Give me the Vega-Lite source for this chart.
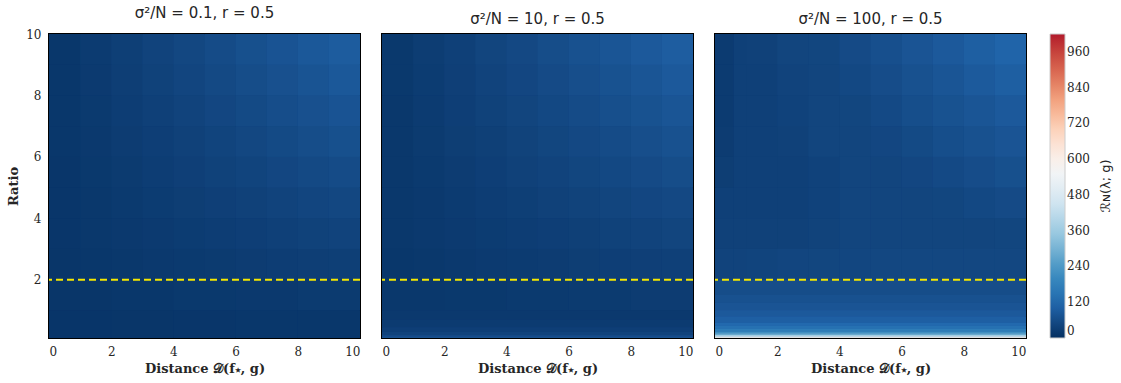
{
"$schema": "https://vega.github.io/schema/vega-lite/v6.json",
"background": "white",
"padding": {"left": 6, "top": 5, "right": 2, "bottom": 2},
"datasets": {"cells": [
{"p":1,"x0":0,"x1":1,"y0":2,"y1":3,"v":13},{"p":1,"x0":1,"x1":2,"y0":2,"y1":3,"v":15},{"p":1,"x0":2,"x1":3,"y0":2,"y1":3,"v":18},{"p":1,"x0":3,"x1":4,"y0":2,"y1":3,"v":20},{"p":1,"x0":4,"x1":5,"y0":2,"y1":3,"v":22},{"p":1,"x0":5,"x1":6,"y0":2,"y1":3,"v":24},{"p":1,"x0":6,"x1":7,"y0":2,"y1":3,"v":27},{"p":1,"x0":7,"x1":8,"y0":2,"y1":3,"v":29},{"p":1,"x0":8,"x1":9,"y0":2,"y1":3,"v":31},{"p":1,"x0":9,"x1":10,"y0":2,"y1":3,"v":33},
{"p":1,"x0":0,"x1":1,"y0":3,"y1":4,"v":14},{"p":1,"x0":1,"x1":2,"y0":3,"y1":4,"v":17},{"p":1,"x0":2,"x1":3,"y0":3,"y1":4,"v":20},{"p":1,"x0":3,"x1":4,"y0":3,"y1":4,"v":23},{"p":1,"x0":4,"x1":5,"y0":3,"y1":4,"v":26},{"p":1,"x0":5,"x1":6,"y0":3,"y1":4,"v":29},{"p":1,"x0":6,"x1":7,"y0":3,"y1":4,"v":32},{"p":1,"x0":7,"x1":8,"y0":3,"y1":4,"v":36},{"p":1,"x0":8,"x1":9,"y0":3,"y1":4,"v":39},{"p":1,"x0":9,"x1":10,"y0":3,"y1":4,"v":42},
{"p":1,"x0":0,"x1":1,"y0":4,"y1":5,"v":14},{"p":1,"x0":1,"x1":2,"y0":4,"y1":5,"v":18},{"p":1,"x0":2,"x1":3,"y0":4,"y1":5,"v":22},{"p":1,"x0":3,"x1":4,"y0":4,"y1":5,"v":26},{"p":1,"x0":4,"x1":5,"y0":4,"y1":5,"v":30},{"p":1,"x0":5,"x1":6,"y0":4,"y1":5,"v":34},{"p":1,"x0":6,"x1":7,"y0":4,"y1":5,"v":38},{"p":1,"x0":7,"x1":8,"y0":4,"y1":5,"v":42},{"p":1,"x0":8,"x1":9,"y0":4,"y1":5,"v":46},{"p":1,"x0":9,"x1":10,"y0":4,"y1":5,"v":50},
{"p":1,"x0":0,"x1":1,"y0":5,"y1":6,"v":14},{"p":1,"x0":1,"x1":2,"y0":5,"y1":6,"v":19},{"p":1,"x0":2,"x1":3,"y0":5,"y1":6,"v":24},{"p":1,"x0":3,"x1":4,"y0":5,"y1":6,"v":29},{"p":1,"x0":4,"x1":5,"y0":5,"y1":6,"v":34},{"p":1,"x0":5,"x1":6,"y0":5,"y1":6,"v":39},{"p":1,"x0":6,"x1":7,"y0":5,"y1":6,"v":44},{"p":1,"x0":7,"x1":8,"y0":5,"y1":6,"v":49},{"p":1,"x0":8,"x1":9,"y0":5,"y1":6,"v":54},{"p":1,"x0":9,"x1":10,"y0":5,"y1":6,"v":59},
{"p":1,"x0":0,"x1":1,"y0":6,"y1":7,"v":15},{"p":1,"x0":1,"x1":2,"y0":6,"y1":7,"v":21},{"p":1,"x0":2,"x1":3,"y0":6,"y1":7,"v":27},{"p":1,"x0":3,"x1":4,"y0":6,"y1":7,"v":32},{"p":1,"x0":4,"x1":5,"y0":6,"y1":7,"v":38},{"p":1,"x0":5,"x1":6,"y0":6,"y1":7,"v":44},{"p":1,"x0":6,"x1":7,"y0":6,"y1":7,"v":50},{"p":1,"x0":7,"x1":8,"y0":6,"y1":7,"v":56},{"p":1,"x0":8,"x1":9,"y0":6,"y1":7,"v":62},{"p":1,"x0":9,"x1":10,"y0":6,"y1":7,"v":68},
{"p":1,"x0":0,"x1":1,"y0":7,"y1":8,"v":15},{"p":1,"x0":1,"x1":2,"y0":7,"y1":8,"v":22},{"p":1,"x0":2,"x1":3,"y0":7,"y1":8,"v":29},{"p":1,"x0":3,"x1":4,"y0":7,"y1":8,"v":36},{"p":1,"x0":4,"x1":5,"y0":7,"y1":8,"v":42},{"p":1,"x0":5,"x1":6,"y0":7,"y1":8,"v":49},{"p":1,"x0":6,"x1":7,"y0":7,"y1":8,"v":56},{"p":1,"x0":7,"x1":8,"y0":7,"y1":8,"v":63},{"p":1,"x0":8,"x1":9,"y0":7,"y1":8,"v":69},{"p":1,"x0":9,"x1":10,"y0":7,"y1":8,"v":76},
{"p":1,"x0":0,"x1":1,"y0":8,"y1":9,"v":16},{"p":1,"x0":1,"x1":2,"y0":8,"y1":9,"v":23},{"p":1,"x0":2,"x1":3,"y0":8,"y1":9,"v":31},{"p":1,"x0":3,"x1":4,"y0":8,"y1":9,"v":39},{"p":1,"x0":4,"x1":5,"y0":8,"y1":9,"v":46},{"p":1,"x0":5,"x1":6,"y0":8,"y1":9,"v":54},{"p":1,"x0":6,"x1":7,"y0":8,"y1":9,"v":62},{"p":1,"x0":7,"x1":8,"y0":8,"y1":9,"v":69},{"p":1,"x0":8,"x1":9,"y0":8,"y1":9,"v":77},{"p":1,"x0":9,"x1":10,"y0":8,"y1":9,"v":85},
{"p":1,"x0":0,"x1":1,"y0":9,"y1":10,"v":16},{"p":1,"x0":1,"x1":2,"y0":9,"y1":10,"v":25},{"p":1,"x0":2,"x1":3,"y0":9,"y1":10,"v":33},{"p":1,"x0":3,"x1":4,"y0":9,"y1":10,"v":42},{"p":1,"x0":4,"x1":5,"y0":9,"y1":10,"v":50},{"p":1,"x0":5,"x1":6,"y0":9,"y1":10,"v":59},{"p":1,"x0":6,"x1":7,"y0":9,"y1":10,"v":68},{"p":1,"x0":7,"x1":8,"y0":9,"y1":10,"v":76},{"p":1,"x0":8,"x1":9,"y0":9,"y1":10,"v":85},{"p":1,"x0":9,"x1":10,"y0":9,"y1":10,"v":93},
{"p":1,"x0":0,"x1":2,"y0":1,"y1":2,"v":13},{"p":1,"x0":2,"x1":4,"y0":1,"y1":2,"v":16},{"p":1,"x0":4,"x1":6,"y0":1,"y1":2,"v":19},{"p":1,"x0":6,"x1":8,"y0":1,"y1":2,"v":21},{"p":1,"x0":8,"x1":10,"y0":1,"y1":2,"v":24},
{"p":1,"x0":0,"x1":2,"y0":0.1,"y1":1,"v":12},{"p":1,"x0":2,"x1":4,"y0":0.1,"y1":1,"v":13},{"p":1,"x0":4,"x1":6,"y0":0.1,"y1":1,"v":14},{"p":1,"x0":6,"x1":8,"y0":0.1,"y1":1,"v":15},{"p":1,"x0":8,"x1":10,"y0":0.1,"y1":1,"v":16},

{"p":2,"x0":0,"x1":1,"y0":2,"y1":3,"v":16},{"p":2,"x0":1,"x1":2,"y0":2,"y1":3,"v":18},{"p":2,"x0":2,"x1":3,"y0":2,"y1":3,"v":21},{"p":2,"x0":3,"x1":4,"y0":2,"y1":3,"v":23},{"p":2,"x0":4,"x1":5,"y0":2,"y1":3,"v":25},{"p":2,"x0":5,"x1":6,"y0":2,"y1":3,"v":27},{"p":2,"x0":6,"x1":7,"y0":2,"y1":3,"v":30},{"p":2,"x0":7,"x1":8,"y0":2,"y1":3,"v":32},{"p":2,"x0":8,"x1":9,"y0":2,"y1":3,"v":34},{"p":2,"x0":9,"x1":10,"y0":2,"y1":3,"v":36},
{"p":2,"x0":0,"x1":1,"y0":3,"y1":4,"v":17},{"p":2,"x0":1,"x1":2,"y0":3,"y1":4,"v":20},{"p":2,"x0":2,"x1":3,"y0":3,"y1":4,"v":23},{"p":2,"x0":3,"x1":4,"y0":3,"y1":4,"v":26},{"p":2,"x0":4,"x1":5,"y0":3,"y1":4,"v":29},{"p":2,"x0":5,"x1":6,"y0":3,"y1":4,"v":32},{"p":2,"x0":6,"x1":7,"y0":3,"y1":4,"v":35},{"p":2,"x0":7,"x1":8,"y0":3,"y1":4,"v":39},{"p":2,"x0":8,"x1":9,"y0":3,"y1":4,"v":42},{"p":2,"x0":9,"x1":10,"y0":3,"y1":4,"v":45},
{"p":2,"x0":0,"x1":1,"y0":4,"y1":5,"v":17},{"p":2,"x0":1,"x1":2,"y0":4,"y1":5,"v":21},{"p":2,"x0":2,"x1":3,"y0":4,"y1":5,"v":25},{"p":2,"x0":3,"x1":4,"y0":4,"y1":5,"v":29},{"p":2,"x0":4,"x1":5,"y0":4,"y1":5,"v":33},{"p":2,"x0":5,"x1":6,"y0":4,"y1":5,"v":37},{"p":2,"x0":6,"x1":7,"y0":4,"y1":5,"v":41},{"p":2,"x0":7,"x1":8,"y0":4,"y1":5,"v":45},{"p":2,"x0":8,"x1":9,"y0":4,"y1":5,"v":49},{"p":2,"x0":9,"x1":10,"y0":4,"y1":5,"v":53},
{"p":2,"x0":0,"x1":1,"y0":5,"y1":6,"v":17},{"p":2,"x0":1,"x1":2,"y0":5,"y1":6,"v":22},{"p":2,"x0":2,"x1":3,"y0":5,"y1":6,"v":27},{"p":2,"x0":3,"x1":4,"y0":5,"y1":6,"v":32},{"p":2,"x0":4,"x1":5,"y0":5,"y1":6,"v":37},{"p":2,"x0":5,"x1":6,"y0":5,"y1":6,"v":42},{"p":2,"x0":6,"x1":7,"y0":5,"y1":6,"v":47},{"p":2,"x0":7,"x1":8,"y0":5,"y1":6,"v":52},{"p":2,"x0":8,"x1":9,"y0":5,"y1":6,"v":57},{"p":2,"x0":9,"x1":10,"y0":5,"y1":6,"v":62},
{"p":2,"x0":0,"x1":1,"y0":6,"y1":7,"v":18},{"p":2,"x0":1,"x1":2,"y0":6,"y1":7,"v":24},{"p":2,"x0":2,"x1":3,"y0":6,"y1":7,"v":30},{"p":2,"x0":3,"x1":4,"y0":6,"y1":7,"v":35},{"p":2,"x0":4,"x1":5,"y0":6,"y1":7,"v":41},{"p":2,"x0":5,"x1":6,"y0":6,"y1":7,"v":47},{"p":2,"x0":6,"x1":7,"y0":6,"y1":7,"v":53},{"p":2,"x0":7,"x1":8,"y0":6,"y1":7,"v":59},{"p":2,"x0":8,"x1":9,"y0":6,"y1":7,"v":65},{"p":2,"x0":9,"x1":10,"y0":6,"y1":7,"v":71},
{"p":2,"x0":0,"x1":1,"y0":7,"y1":8,"v":18},{"p":2,"x0":1,"x1":2,"y0":7,"y1":8,"v":25},{"p":2,"x0":2,"x1":3,"y0":7,"y1":8,"v":32},{"p":2,"x0":3,"x1":4,"y0":7,"y1":8,"v":39},{"p":2,"x0":4,"x1":5,"y0":7,"y1":8,"v":45},{"p":2,"x0":5,"x1":6,"y0":7,"y1":8,"v":52},{"p":2,"x0":6,"x1":7,"y0":7,"y1":8,"v":59},{"p":2,"x0":7,"x1":8,"y0":7,"y1":8,"v":66},{"p":2,"x0":8,"x1":9,"y0":7,"y1":8,"v":72},{"p":2,"x0":9,"x1":10,"y0":7,"y1":8,"v":79},
{"p":2,"x0":0,"x1":1,"y0":8,"y1":9,"v":19},{"p":2,"x0":1,"x1":2,"y0":8,"y1":9,"v":26},{"p":2,"x0":2,"x1":3,"y0":8,"y1":9,"v":34},{"p":2,"x0":3,"x1":4,"y0":8,"y1":9,"v":42},{"p":2,"x0":4,"x1":5,"y0":8,"y1":9,"v":49},{"p":2,"x0":5,"x1":6,"y0":8,"y1":9,"v":57},{"p":2,"x0":6,"x1":7,"y0":8,"y1":9,"v":65},{"p":2,"x0":7,"x1":8,"y0":8,"y1":9,"v":72},{"p":2,"x0":8,"x1":9,"y0":8,"y1":9,"v":80},{"p":2,"x0":9,"x1":10,"y0":8,"y1":9,"v":88},
{"p":2,"x0":0,"x1":1,"y0":9,"y1":10,"v":19},{"p":2,"x0":1,"x1":2,"y0":9,"y1":10,"v":28},{"p":2,"x0":2,"x1":3,"y0":9,"y1":10,"v":36},{"p":2,"x0":3,"x1":4,"y0":9,"y1":10,"v":45},{"p":2,"x0":4,"x1":5,"y0":9,"y1":10,"v":53},{"p":2,"x0":5,"x1":6,"y0":9,"y1":10,"v":62},{"p":2,"x0":6,"x1":7,"y0":9,"y1":10,"v":71},{"p":2,"x0":7,"x1":8,"y0":9,"y1":10,"v":79},{"p":2,"x0":8,"x1":9,"y0":9,"y1":10,"v":88},{"p":2,"x0":9,"x1":10,"y0":9,"y1":10,"v":96},
{"p":2,"x0":0,"x1":2,"y0":1,"y1":2,"v":17},{"p":2,"x0":2,"x1":4,"y0":1,"y1":2,"v":19},{"p":2,"x0":4,"x1":6,"y0":1,"y1":2,"v":22},{"p":2,"x0":6,"x1":8,"y0":1,"y1":2,"v":24},{"p":2,"x0":8,"x1":10,"y0":1,"y1":2,"v":27},
{"p":2,"x0":0,"x1":10,"y0":0.7,"y1":1,"v":20},{"p":2,"x0":0,"x1":10,"y0":0.45,"y1":0.7,"v":25},{"p":2,"x0":0,"x1":10,"y0":0.3,"y1":0.45,"v":32},{"p":2,"x0":0,"x1":10,"y0":0.2,"y1":0.3,"v":42},{"p":2,"x0":0,"x1":10,"y0":0.15,"y1":0.2,"v":55},{"p":2,"x0":0,"x1":10,"y0":0.1,"y1":0.15,"v":70},

{"p":3,"x0":0,"x1":0.6,"y0":2,"y1":3,"v":42},{"p":3,"x0":0.6,"x1":1,"y0":2,"y1":3,"v":42},{"p":3,"x0":1,"x1":2,"y0":2,"y1":3,"v":44},{"p":3,"x0":2,"x1":3,"y0":2,"y1":3,"v":46},{"p":3,"x0":3,"x1":4,"y0":2,"y1":3,"v":47},{"p":3,"x0":4,"x1":5,"y0":2,"y1":3,"v":48},{"p":3,"x0":5,"x1":6,"y0":2,"y1":3,"v":50},{"p":3,"x0":6,"x1":7,"y0":2,"y1":3,"v":50},{"p":3,"x0":7,"x1":8,"y0":2,"y1":3,"v":50},{"p":3,"x0":8,"x1":9,"y0":2,"y1":3,"v":50},{"p":3,"x0":9,"x1":10,"y0":2,"y1":3,"v":50},
{"p":3,"x0":0,"x1":0.6,"y0":3,"y1":4,"v":37},{"p":3,"x0":0.6,"x1":1,"y0":3,"y1":4,"v":37},{"p":3,"x0":1,"x1":2,"y0":3,"y1":4,"v":37},{"p":3,"x0":2,"x1":3,"y0":3,"y1":4,"v":37},{"p":3,"x0":3,"x1":4,"y0":3,"y1":4,"v":41},{"p":3,"x0":4,"x1":5,"y0":3,"y1":4,"v":45},{"p":3,"x0":5,"x1":6,"y0":3,"y1":4,"v":45},{"p":3,"x0":6,"x1":7,"y0":3,"y1":4,"v":45},{"p":3,"x0":7,"x1":8,"y0":3,"y1":4,"v":45},{"p":3,"x0":8,"x1":9,"y0":3,"y1":4,"v":45},{"p":3,"x0":9,"x1":10,"y0":3,"y1":4,"v":47},
{"p":3,"x0":0,"x1":0.6,"y0":4,"y1":5,"v":36},{"p":3,"x0":0.6,"x1":1,"y0":4,"y1":5,"v":36},{"p":3,"x0":1,"x1":2,"y0":4,"y1":5,"v":36},{"p":3,"x0":2,"x1":3,"y0":4,"y1":5,"v":36},{"p":3,"x0":3,"x1":4,"y0":4,"y1":5,"v":40},{"p":3,"x0":4,"x1":5,"y0":4,"y1":5,"v":45},{"p":3,"x0":5,"x1":6,"y0":4,"y1":5,"v":45},{"p":3,"x0":6,"x1":7,"y0":4,"y1":5,"v":45},{"p":3,"x0":7,"x1":8,"y0":4,"y1":5,"v":47},{"p":3,"x0":8,"x1":9,"y0":4,"y1":5,"v":52},{"p":3,"x0":9,"x1":10,"y0":4,"y1":5,"v":57},
{"p":3,"x0":0,"x1":0.6,"y0":5,"y1":6,"v":30},{"p":3,"x0":0.6,"x1":1,"y0":5,"y1":6,"v":36},{"p":3,"x0":1,"x1":2,"y0":5,"y1":6,"v":36},{"p":3,"x0":2,"x1":3,"y0":5,"y1":6,"v":36},{"p":3,"x0":3,"x1":4,"y0":5,"y1":6,"v":40},{"p":3,"x0":4,"x1":5,"y0":5,"y1":6,"v":45},{"p":3,"x0":5,"x1":6,"y0":5,"y1":6,"v":45},{"p":3,"x0":6,"x1":7,"y0":5,"y1":6,"v":49},{"p":3,"x0":7,"x1":8,"y0":5,"y1":6,"v":55},{"p":3,"x0":8,"x1":9,"y0":5,"y1":6,"v":61},{"p":3,"x0":9,"x1":10,"y0":5,"y1":6,"v":68},
{"p":3,"x0":0,"x1":0.6,"y0":6,"y1":7,"v":27},{"p":3,"x0":0.6,"x1":1,"y0":6,"y1":7,"v":36},{"p":3,"x0":1,"x1":2,"y0":6,"y1":7,"v":36},{"p":3,"x0":2,"x1":3,"y0":6,"y1":7,"v":37},{"p":3,"x0":3,"x1":4,"y0":6,"y1":7,"v":45},{"p":3,"x0":4,"x1":5,"y0":6,"y1":7,"v":45},{"p":3,"x0":5,"x1":6,"y0":6,"y1":7,"v":49},{"p":3,"x0":6,"x1":7,"y0":6,"y1":7,"v":56},{"p":3,"x0":7,"x1":8,"y0":6,"y1":7,"v":64},{"p":3,"x0":8,"x1":9,"y0":6,"y1":7,"v":71},{"p":3,"x0":9,"x1":10,"y0":6,"y1":7,"v":78},
{"p":3,"x0":0,"x1":0.6,"y0":7,"y1":8,"v":25},{"p":3,"x0":0.6,"x1":1,"y0":7,"y1":8,"v":36},{"p":3,"x0":1,"x1":2,"y0":7,"y1":8,"v":36},{"p":3,"x0":2,"x1":3,"y0":7,"y1":8,"v":40},{"p":3,"x0":3,"x1":4,"y0":7,"y1":8,"v":45},{"p":3,"x0":4,"x1":5,"y0":7,"y1":8,"v":47},{"p":3,"x0":5,"x1":6,"y0":7,"y1":8,"v":55},{"p":3,"x0":6,"x1":7,"y0":7,"y1":8,"v":64},{"p":3,"x0":7,"x1":8,"y0":7,"y1":8,"v":72},{"p":3,"x0":8,"x1":9,"y0":7,"y1":8,"v":80},{"p":3,"x0":9,"x1":10,"y0":7,"y1":8,"v":88},
{"p":3,"x0":0,"x1":0.6,"y0":8,"y1":9,"v":25},{"p":3,"x0":0.6,"x1":1,"y0":8,"y1":9,"v":36},{"p":3,"x0":1,"x1":2,"y0":8,"y1":9,"v":36},{"p":3,"x0":2,"x1":3,"y0":8,"y1":9,"v":42},{"p":3,"x0":3,"x1":4,"y0":8,"y1":9,"v":45},{"p":3,"x0":4,"x1":5,"y0":8,"y1":9,"v":52},{"p":3,"x0":5,"x1":6,"y0":8,"y1":9,"v":61},{"p":3,"x0":6,"x1":7,"y0":8,"y1":9,"v":71},{"p":3,"x0":7,"x1":8,"y0":8,"y1":9,"v":80},{"p":3,"x0":8,"x1":9,"y0":8,"y1":9,"v":89},{"p":3,"x0":9,"x1":10,"y0":8,"y1":9,"v":99},
{"p":3,"x0":0,"x1":0.6,"y0":9,"y1":10,"v":25},{"p":3,"x0":0.6,"x1":1,"y0":9,"y1":10,"v":36},{"p":3,"x0":1,"x1":2,"y0":9,"y1":10,"v":37},{"p":3,"x0":2,"x1":3,"y0":9,"y1":10,"v":45},{"p":3,"x0":3,"x1":4,"y0":9,"y1":10,"v":47},{"p":3,"x0":4,"x1":5,"y0":9,"y1":10,"v":57},{"p":3,"x0":5,"x1":6,"y0":9,"y1":10,"v":67},{"p":3,"x0":6,"x1":7,"y0":9,"y1":10,"v":78},{"p":3,"x0":7,"x1":8,"y0":9,"y1":10,"v":88},{"p":3,"x0":8,"x1":9,"y0":9,"y1":10,"v":99},{"p":3,"x0":9,"x1":10,"y0":9,"y1":10,"v":109},
{"p":3,"x0":0,"x1":10,"y0":1.5,"y1":2,"v":62},{"p":3,"x0":0,"x1":10,"y0":1.25,"y1":1.5,"v":70},{"p":3,"x0":0,"x1":10,"y0":1,"y1":1.25,"v":78},{"p":3,"x0":0,"x1":10,"y0":0.8,"y1":1,"v":88},{"p":3,"x0":0,"x1":10,"y0":0.6,"y1":0.8,"v":100},{"p":3,"x0":0,"x1":10,"y0":0.5,"y1":0.6,"v":120},{"p":3,"x0":0,"x1":10,"y0":0.4,"y1":0.5,"v":140},{"p":3,"x0":0,"x1":10,"y0":0.3,"y1":0.4,"v":170},{"p":3,"x0":0,"x1":10,"y0":0.25,"y1":0.3,"v":220},{"p":3,"x0":0,"x1":10,"y0":0.2,"y1":0.25,"v":280},{"p":3,"x0":0,"x1":10,"y0":0.15,"y1":0.2,"v":370},{"p":3,"x0":0,"x1":10,"y0":0.12,"y1":0.15,"v":480},{"p":3,"x0":0,"x1":10,"y0":0.1,"y1":0.12,"v":580}
]},
"spacing": 18,
"resolve": {"scale": {"color": "shared"}},
"hconcat": [
{"width": 311, "height": 304, "title": "σ²/N = 0.1, r = 0.5",
 "encoding": {
    "x": {"field": "x0", "type": "quantitative", "scale": {"domain": [0, 10], "nice": false, "zero": false}, "axis": {"values": [0, 2, 4, 6, 8, 10], "title": "Distance 𝒟(f⋆, g)"}},
    "x2": {"field": "x1"},
    "y": {"field": "y0", "type": "quantitative", "scale": {"domain": [0.1, 10], "nice": false, "zero": false}, "axis": {"values": [2, 4, 6, 8, 10], "title": "Ratio"}},
    "y2": {"field": "y1"},
    "color": {"field": "v", "type": "quantitative", "scale": {"domain": [0, 113, 227, 340, 453, 567, 680, 793, 907, 1020], "range": ["#053061", "#2166ac", "#4393c3", "#92c5de", "#d1e5f0", "#f7f7f7", "#fddbc7", "#f4a582", "#d6604d", "#b2182b"], "clamp": true},
     "legend": {"type": "gradient", "title": "ℛɴ(λ; g)", "direction": "vertical", "values": [0, 120, 240, 360, 480, 600, 720, 840, 960], "gradientLength": 304, "gradientThickness": 15, "titleOrient": "right", "titleAnchor": "middle", "titlePadding": 10, "offset": 22, "padding": 0, "encode": {"title": {"update": {"angle": {"value": 270}, "baseline": {"value": "top"}}}}}}
 },
 "layer": [
  {"data": {"name": "cells"}, "transform": [{"filter": "datum.p == 1"}], "mark": {"type": "rect"}},
  {"data": {"name": "cells"}, "transform": [{"filter": "datum.p == 1"}], "mark": {"type": "rect"}},
  {"data": {"values": [{"ratio": 2}]}, "mark": {"type": "rule", "color": "#f5e800", "strokeDash": [7, 4], "strokeWidth": 2}, "encoding": {"x": null, "x2": null, "y2": null, "color": null, "y": {"field": "ratio", "type": "quantitative"}}}
 ]},
{"width": 311, "height": 304, "title": "σ²/N = 10, r = 0.5",
 "encoding": {
    "x": {"field": "x0", "type": "quantitative", "scale": {"domain": [0, 10], "nice": false, "zero": false}, "axis": {"values": [0, 2, 4, 6, 8, 10], "title": "Distance 𝒟(f⋆, g)"}},
    "x2": {"field": "x1"},
    "y": {"field": "y0", "type": "quantitative", "scale": {"domain": [0.1, 10], "nice": false, "zero": false}, "axis": null},
    "y2": {"field": "y1"},
    "color": {"field": "v", "type": "quantitative", "scale": {"domain": [0, 113, 227, 340, 453, 567, 680, 793, 907, 1020], "range": ["#053061", "#2166ac", "#4393c3", "#92c5de", "#d1e5f0", "#f7f7f7", "#fddbc7", "#f4a582", "#d6604d", "#b2182b"], "clamp": true},
     "legend": {"type": "gradient", "title": "ℛɴ(λ; g)", "direction": "vertical", "values": [0, 120, 240, 360, 480, 600, 720, 840, 960], "gradientLength": 304, "gradientThickness": 15, "titleOrient": "right", "titleAnchor": "middle", "titlePadding": 10, "offset": 22, "padding": 0, "encode": {"title": {"update": {"angle": {"value": 270}, "baseline": {"value": "top"}}}}}}
 },
 "layer": [
  {"data": {"name": "cells"}, "transform": [{"filter": "datum.p == 2"}], "mark": {"type": "rect"}},
  {"data": {"name": "cells"}, "transform": [{"filter": "datum.p == 2"}], "mark": {"type": "rect"}},
  {"data": {"values": [{"ratio": 2}]}, "mark": {"type": "rule", "color": "#f5e800", "strokeDash": [7, 4], "strokeWidth": 2}, "encoding": {"x": null, "x2": null, "y2": null, "color": null, "y": {"field": "ratio", "type": "quantitative"}}}
 ]},
{"width": 311, "height": 304, "title": "σ²/N = 100, r = 0.5",
 "encoding": {
    "x": {"field": "x0", "type": "quantitative", "scale": {"domain": [0, 10], "nice": false, "zero": false}, "axis": {"values": [0, 2, 4, 6, 8, 10], "title": "Distance 𝒟(f⋆, g)"}},
    "x2": {"field": "x1"},
    "y": {"field": "y0", "type": "quantitative", "scale": {"domain": [0.1, 10], "nice": false, "zero": false}, "axis": null},
    "y2": {"field": "y1"},
    "color": {"field": "v", "type": "quantitative", "scale": {"domain": [0, 113, 227, 340, 453, 567, 680, 793, 907, 1020], "range": ["#053061", "#2166ac", "#4393c3", "#92c5de", "#d1e5f0", "#f7f7f7", "#fddbc7", "#f4a582", "#d6604d", "#b2182b"], "clamp": true},
     "legend": {"type": "gradient", "title": "ℛɴ(λ; g)", "direction": "vertical", "values": [0, 120, 240, 360, 480, 600, 720, 840, 960], "gradientLength": 304, "gradientThickness": 15, "titleOrient": "right", "titleAnchor": "middle", "titlePadding": 10, "offset": 22, "padding": 0, "encode": {"title": {"update": {"angle": {"value": 270}, "baseline": {"value": "top"}}}}}}
 },
 "layer": [
  {"data": {"name": "cells"}, "transform": [{"filter": "datum.p == 3"}], "mark": {"type": "rect"}},
  {"data": {"name": "cells"}, "transform": [{"filter": "datum.p == 3"}], "mark": {"type": "rect"}},
  {"data": {"values": [{"ratio": 2}]}, "mark": {"type": "rule", "color": "#f5e800", "strokeDash": [7, 4], "strokeWidth": 2}, "encoding": {"x": null, "x2": null, "y2": null, "color": null, "y": {"field": "ratio", "type": "quantitative"}}}
 ]}
],
"config": {
 "view": {"stroke": "black", "strokeWidth": 2, "fill": "#0a3370"},
 "axis": {"labelFont": "DejaVu Serif", "labelFontSize": 12, "labelColor": "#262626", "titleFont": "DejaVu Serif", "titleFontWeight": "bold", "titleFontSize": 13, "titleColor": "#262626", "ticks": false, "domain": false, "grid": false, "labelPadding": 8, "titlePadding": 5},
 "legend": {"labelFont": "DejaVu Serif", "labelFontSize": 12, "labelColor": "#262626", "titleFont": "DejaVu Sans", "titleFontSize": 13, "titleFontWeight": "normal", "titleColor": "#262626", "gradientStrokeColor": "#cccccc", "gradientStrokeWidth": 1, "labelOffset": 10},
 "title": {"font": "DejaVu Sans", "fontSize": 15, "fontWeight": "normal", "color": "#262626", "offset": 7}
}
}
